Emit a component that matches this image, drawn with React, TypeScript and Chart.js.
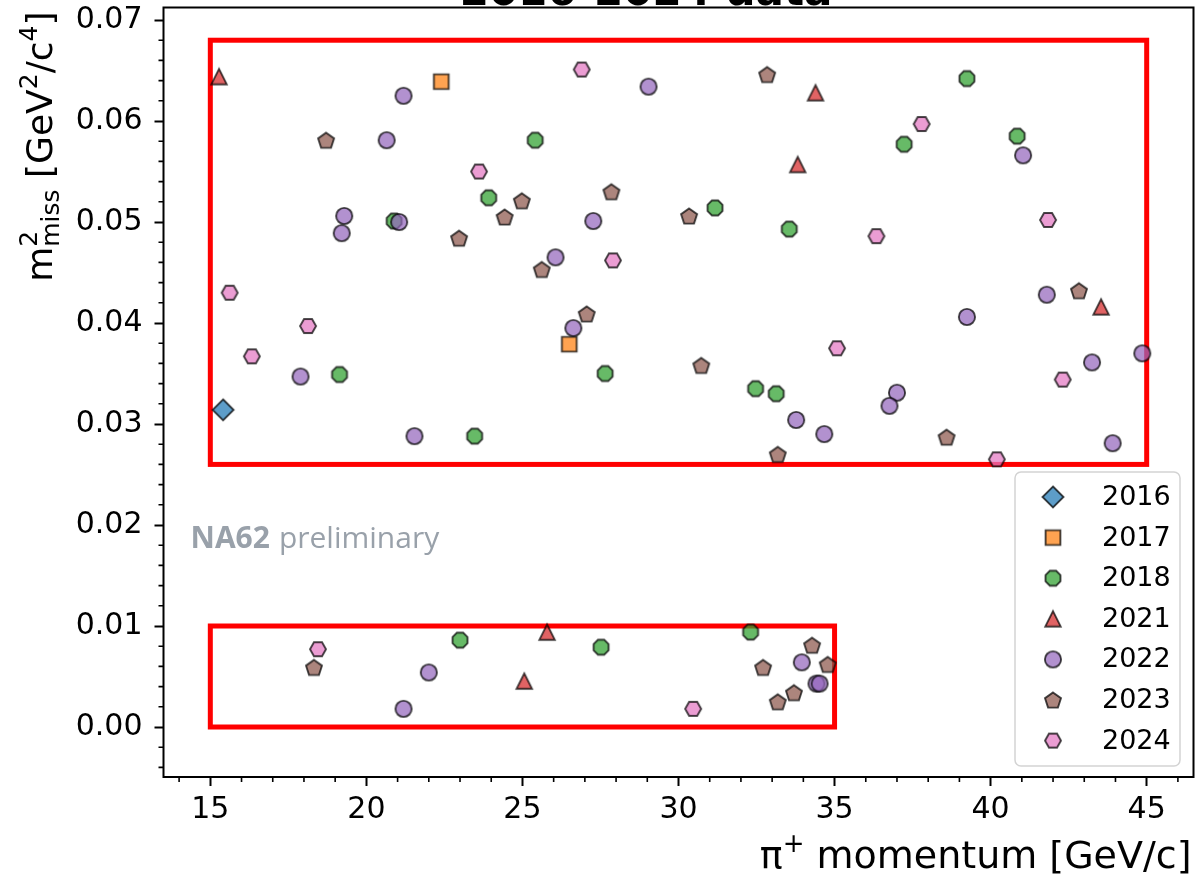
import React, { useEffect, useRef } from "react";
import { Chart, registerables } from "chart.js";

Chart.register(...registerables);

// ---------------- data ----------------
const seriesLabels = ["2016", "2017", "2018", "2021", "2022", "2023", "2024"];

const x2016 = [15.41];
const y2016 = [0.0314];

const x2017 = [22.4, 26.5];
const y2017 = [0.0639, 0.0379];

const x2018 = [25.41, 23.92, 20.89, 19.14, 23.47, 27.65, 39.24, 37.23, 40.85, 31.17, 33.55, 32.47, 33.13, 23.0, 27.52, 32.31];
const y2018 = [0.0581, 0.0524, 0.0501, 0.0349, 0.0288, 0.035, 0.0642, 0.0577, 0.0585, 0.0514, 0.0493, 0.0335, 0.033, 0.0086, 0.0079, 0.0094];

const x2021 = [15.28, 34.39, 33.82, 43.54, 25.79, 25.06];
const y2021 = [0.0644, 0.0628, 0.0557, 0.0416, 0.0094, 0.00455];

const x2022 = [21.19, 29.04, 20.65, 19.29, 19.21, 21.05, 27.27, 26.06, 17.89, 21.54, 26.63, 41.04, 41.8, 39.24, 44.86, 43.25, 37.0, 36.76, 33.77, 34.67, 43.91, 22.0, 21.19, 33.95, 34.42, 34.52];
const y2022 = [0.0625, 0.0634, 0.0581, 0.0506, 0.0489, 0.05, 0.0501, 0.0465, 0.0347, 0.0288, 0.0395, 0.0566, 0.0428, 0.0406, 0.037, 0.0361, 0.0331, 0.0318, 0.0304, 0.029, 0.0281, 0.0054, 0.0018, 0.0064, 0.0043, 0.0043];

const x2023 = [18.71, 24.98, 27.85, 24.43, 22.97, 25.62, 27.06, 32.84, 30.34, 42.83, 30.73, 38.59, 33.18, 18.32, 32.71, 34.28, 34.78, 33.7, 33.18];
const y2023 = [0.0581, 0.0521, 0.053, 0.0505, 0.0484, 0.0453, 0.0409, 0.0646, 0.0506, 0.0432, 0.0358, 0.0287, 0.027, 0.0059, 0.0059, 0.0081, 0.0062, 0.0034, 0.0025];

const x2024 = [26.9, 23.61, 27.9, 15.62, 18.13, 16.33, 37.79, 36.34, 41.84, 35.08, 42.31, 40.2, 18.45, 30.47];
const y2024 = [0.0651, 0.055, 0.0462, 0.043, 0.0397, 0.0367, 0.0597, 0.0486, 0.0502, 0.0375, 0.0344, 0.0265, 0.0077, 0.0018];

const seriesX = [x2016, x2017, x2018, x2021, x2022, x2023, x2024];
const seriesY = [y2016, y2017, y2018, y2021, y2022, y2023, y2024];
const seriesShapes = ["diamond", "square", "octagon", "triangle", "circle", "pentagon", "hexagon"];
const seriesColors = [
  "rgba(31,119,180,0.72)",
  "rgba(255,127,14,0.72)",
  "rgba(44,160,44,0.72)",
  "rgba(214,39,40,0.72)",
  "rgba(148,103,189,0.72)",
  "rgba(140,86,75,0.72)",
  "rgba(227,119,194,0.72)",
];

// signal regions
const boxXMin = [15, 15];
const boxXMax = [45, 35];
const boxYMin = [0.026, 0.0];
const boxYMax = [0.068, 0.01];

// axes
const xTicks = [15, 20, 25, 30, 35, 40, 45];
const yTicks = [0, 0.01, 0.02, 0.03, 0.04, 0.05, 0.06, 0.07];
const xLimits = [13.5, 46.5];
const yLimits = [-0.00495, 0.07124];
const xMinorStep = 1;
const yMinorStep = 0.002;

const titleText = "2016-2024 data";
const FONT = "DejaVu Sans";

// ---------------- markers ----------------
function makeMarker(shape: string, fill: string): HTMLCanvasElement {
  const S = 30;
  const c = document.createElement("canvas");
  c.width = S;
  c.height = S;
  const g = c.getContext("2d")!;
  const cx = S / 2;
  const cy = S / 2;
  const poly = (n: number, r: number, a0: number, oy = 0) => {
    for (let k = 0; k < n; k++) {
      const a = a0 + (k * 2 * Math.PI) / n;
      const px = cx + r * Math.cos(a);
      const py = cy + oy + r * Math.sin(a);
      if (k === 0) g.moveTo(px, py);
      else g.lineTo(px, py);
    }
    g.closePath();
  };
  g.beginPath();
  if (shape === "diamond") {
    const r = 10.5;
    g.moveTo(cx, cy - r);
    g.lineTo(cx + r, cy);
    g.lineTo(cx, cy + r);
    g.lineTo(cx - r, cy);
    g.closePath();
  } else if (shape === "square") {
    const h = 7.4;
    g.rect(cx - h, cy - h, 2 * h, 2 * h);
  } else if (shape === "octagon") {
    poly(8, 8.1, Math.PI / 8);
  } else if (shape === "triangle") {
    const h = 7.7;
    g.moveTo(cx, cy - h);
    g.lineTo(cx + h, cy + h);
    g.lineTo(cx - h, cy + h);
    g.closePath();
  } else if (shape === "circle") {
    g.arc(cx, cy, 8.1, 0, Math.PI * 2);
  } else if (shape === "pentagon") {
    const r = 8.4;
    poly(5, r, -Math.PI / 2, 0.095 * r);
  } else {
    poly(6, 8.0, 0);
  }
  g.fillStyle = fill;
  g.fill();
  g.lineWidth = 1.9;
  g.lineJoin = "miter";
  g.strokeStyle = "rgba(0,0,0,0.72)";
  g.stroke();
  return c;
}

type Run = { t: string; s: number; dy: number; stackWith?: Run };

function runsWidth(ctx: CanvasRenderingContext2D, runs: Run[]) {
  let w = 0;
  for (const r of runs) {
    ctx.font = `${r.s}px "${FONT}"`;
    let rw = ctx.measureText(r.t).width;
    if (r.stackWith) {
      ctx.font = `${r.stackWith.s}px "${FONT}"`;
      rw = Math.max(rw, ctx.measureText(r.stackWith.t).width);
    }
    w += rw;
  }
  return w;
}

function drawRuns(ctx: CanvasRenderingContext2D, runs: Run[], x0: number, y0: number) {
  let x = x0;
  for (const r of runs) {
    ctx.font = `${r.s}px "${FONT}"`;
    ctx.fillText(r.t, x, y0 + r.dy);
    let rw = ctx.measureText(r.t).width;
    if (r.stackWith) {
      ctx.font = `${r.stackWith.s}px "${FONT}"`;
      ctx.fillText(r.stackWith.t, x, y0 + r.stackWith.dy);
      rw = Math.max(rw, ctx.measureText(r.stackWith.t).width);
    }
    x += rw;
  }
}

const zeroPad = (s: any) => {
  s.paddingTop = 0;
  s.paddingBottom = 0;
  s.paddingLeft = 0;
  s.paddingRight = 0;
};

export default function App() {
  const ref = useRef<HTMLCanvasElement>(null);

  useEffect(() => {
    if (!ref.current) return;
    const markers = seriesShapes.map((s, i) => makeMarker(s, seriesColors[i]));

    const decor = {
      id: "decor",
      beforeDatasetsDraw(chart: any) {
        const { ctx } = chart;
        const xs = chart.scales.x;
        const ys = chart.scales.y;
        ctx.save();
        ctx.strokeStyle = "#ff0000";
        ctx.lineWidth = 5;
        ctx.lineJoin = "miter";
        for (let i = 0; i < boxXMin.length; i++) {
          const l = xs.getPixelForValue(boxXMin[i]);
          const r = xs.getPixelForValue(boxXMax[i]);
          const t = ys.getPixelForValue(boxYMax[i]);
          const b = ys.getPixelForValue(boxYMin[i]);
          ctx.strokeRect(l, t, r - l, b - t);
        }
        ctx.restore();
      },
      afterDraw(chart: any) {
        const { ctx, chartArea: ca } = chart;
        const xs = chart.scales.x;
        const ys = chart.scales.y;
        ctx.save();
        // frame
        ctx.strokeStyle = "#000";
        ctx.lineWidth = 2;
        ctx.strokeRect(ca.left, ca.top, ca.right - ca.left, ca.bottom - ca.top);
        // minor ticks
        ctx.lineWidth = 1.6;
        ctx.beginPath();
        for (let v = Math.ceil(xLimits[0]); v <= xLimits[1]; v += xMinorStep) {
          if (xTicks.includes(v)) continue;
          const px = xs.getPixelForValue(v);
          ctx.moveTo(px, ca.bottom);
          ctx.lineTo(px, ca.bottom + 5);
        }
        for (let k = Math.ceil(yLimits[0] / yMinorStep); k * yMinorStep <= yLimits[1]; k++) {
          if (k % 5 === 0) continue;
          const py = ys.getPixelForValue(k * yMinorStep);
          ctx.moveTo(ca.left, py);
          ctx.lineTo(ca.left - 5, py);
        }
        ctx.stroke();

        // NA62 preliminary
        ctx.fillStyle = "#99a1aa";
        ctx.textBaseline = "alphabetic";
        ctx.textAlign = "left";
        ctx.font = `bold 30px "Open Sans"`;
        const nx = ca.left + 27;
        const ny = 548;
        ctx.fillText("NA62", nx, ny);
        const w1 = ctx.measureText("NA62").width + 9;
        ctx.font = `30px "Open Sans"`;
        ctx.fillText("preliminary", nx + w1, ny);

        // legend
        const lx0 = 1015, ly0 = 472, lx1 = 1180, ly1 = 766;
        ctx.beginPath();
        ctx.roundRect(lx0, ly0, lx1 - lx0, ly1 - ly0, 6);
        ctx.fillStyle = "rgba(255,255,255,0.8)";
        ctx.fill();
        ctx.strokeStyle = "#d3d3d3";
        ctx.lineWidth = 1.5;
        ctx.stroke();
        ctx.fillStyle = "#000";
        ctx.font = `27px "${FONT}"`;
        ctx.textBaseline = "middle";
        chart.data.datasets.forEach((ds: any, i: number) => {
          const cy = 497 + i * 40.6;
          const img = ds.pointStyle as HTMLCanvasElement;
          ctx.drawImage(img, 1053 - img.width / 2, cy - img.height / 2);
          ctx.fillText(ds.label, 1102, cy + 1);
        });

        // x axis label
        ctx.fillStyle = "#000";
        ctx.textBaseline = "alphabetic";
        const xRuns: Run[] = [
          { t: "π", s: 38, dy: 0 },
          { t: "+", s: 26, dy: -16 },
          { t: " momentum [GeV/c]", s: 38, dy: 0 },
        ];
        const xw = runsWidth(ctx, xRuns);
        drawRuns(ctx, xRuns, ca.right - 2 - xw, 868);

        // y axis label
        const yRuns: Run[] = [
          { t: "m", s: 36, dy: 0 },
          { t: "2", s: 25, dy: -15, stackWith: { t: "miss", s: 25, dy: 7 } },
          { t: " [GeV", s: 36, dy: 0 },
          { t: "2", s: 25, dy: -15 },
          { t: "/c", s: 36, dy: 0 },
          { t: "4", s: 25, dy: -15 },
          { t: "]", s: 36, dy: 0 },
        ];
        const yw = runsWidth(ctx, yRuns);
        ctx.save();
        ctx.translate(52, ca.top + 4 + yw);
        ctx.rotate(-Math.PI / 2);
        drawRuns(ctx, yRuns, 0, 0);
        ctx.restore();

        // title (clipped at top)
        ctx.font = `bold 42px "${FONT}"`;
        ctx.textAlign = "center";
        ctx.textBaseline = "alphabetic";
        ctx.fillText(titleText, 646, 5);
        ctx.restore();
      },
    };

    const chart = new Chart(ref.current, {
      type: "scatter",
      data: {
        datasets: seriesLabels.map((label, i) => ({
          label,
          data: seriesX[i].map((x, j) => ({ x, y: seriesY[i][j] })),
          pointStyle: markers[i] as any,
          pointRadius: 9,
          pointHoverRadius: 9,
          order: seriesLabels.length - i,
        })),
      },
      options: {
        responsive: false,
        animation: false,
        events: [],
        layout: { autoPadding: false, padding: { top: 7.5, right: 2.5, left: 0, bottom: 0 } },
        plugins: {
          legend: { display: false },
          tooltip: { enabled: false },
          title: { display: false },
        },
        scales: {
          x: {
            type: "linear",
            min: xLimits[0],
            max: xLimits[1],
            afterFit: (s: any) => {
              s.height = 103;
              zeroPad(s);
            },
            afterBuildTicks: (s: any) => {
              s.ticks = xTicks.map((v) => ({ value: v }));
            },
            ticks: {
              color: "#000",
              font: { family: FONT, size: 30 },
              padding: 6,
              maxRotation: 0,
              callback: (v: any) => String(v),
            },
            grid: {
              display: true,
              drawOnChartArea: false,
              drawTicks: true,
              tickLength: 9,
              tickWidth: 2,
              tickColor: "#000",
            },
            border: { display: false },
          },
          y: {
            type: "linear",
            min: yLimits[0],
            max: yLimits[1],
            afterFit: (s: any) => {
              s.width = 163.5;
              zeroPad(s);
            },
            afterBuildTicks: (s: any) => {
              s.ticks = yTicks.map((v) => ({ value: v }));
            },
            ticks: {
              color: "#000",
              font: { family: FONT, size: 30 },
              padding: 12,
              callback: (v: any) => Number(v).toFixed(2),
            },
            grid: {
              display: true,
              drawOnChartArea: false,
              drawTicks: true,
              tickLength: 9,
              tickWidth: 2,
              tickColor: "#000",
            },
            border: { display: false },
          },
        },
      },
      plugins: [decor],
    });
    return () => chart.destroy();
  }, []);

  return (
    <div style={{ position: "absolute", left: 0, top: 0, width: 1196, height: 880, background: "#fff" }}>
      <canvas ref={ref} width={1196} height={880} style={{ display: "block", width: 1196, height: 880 }} />
    </div>
  );
}
